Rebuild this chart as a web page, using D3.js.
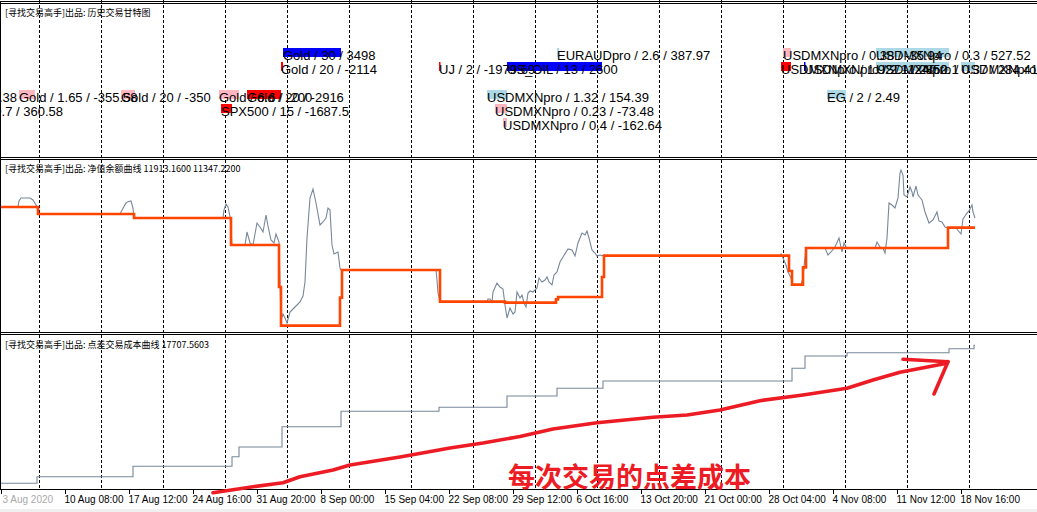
<!DOCTYPE html>
<html><head><meta charset="utf-8">
<script src="https://cdn.jsdelivr.net/npm/d3@7/dist/d3.min.js"></script>
<style>html,body{margin:0;padding:0;background:#fff;overflow:hidden}</style>
</head><body>
<svg id="c" width="1037" height="512"></svg>
<script>
// ---------------- DATA ----------------
// x axis: bar index (2 px per bar at this zoom)
const xTickBars = [0,32,64,96,128,160,192,224,256,288,320,352,384,416,448,480];
const xTickLabels = ["3 Aug 2020","10 Aug 08:00","17 Aug 12:00","24 Aug 16:00","31 Aug 20:00","8 Sep 00:00","15 Sep 04:00","22 Sep 08:00","29 Sep 12:00","6 Oct 16:00","13 Oct 20:00","21 Oct 00:00","28 Oct 04:00","4 Nov 08:00","11 Nov 12:00","18 Nov 16:00"];
const gridFirstBar = 19.15, gridStepBars = 31, gridCount = 16;

const panelTitles = ["[寻找交易高手]出品: 历史交易甘特图",
                     "[寻找交易高手]出品: 净值余额曲线 11913.1600 11347.2200",
                     "[寻找交易高手]出品: 点差交易成本曲线 17707.5603"];

// Gantt trades
const tradeLabels = ["Gold / 30 / 3498","Gold / 20 / -2114","UJ / 2 / -1979.69","US_OIL / 13 / 2600","EURAUDpro / 2.6 / 387.97",
  "USDMXNpro / 1.32 / 154.39","USDMXNpro / 0.23 / -73.48","USDMXNpro / 0.4 / -162.64","EG / 2 / 2.49",
  "USDMXNpro / 0.38 / -35.94","USDMXNpro / 0.3 / 527.52","USDMXNpro / 1.92 / -1240.2","USDMXNpro / 2.1 / 2850.1",
  "USDMXNpro / 0.37 / 284.41","USDMXNpro / 0.5 / 695.19","Gold / 1.65 / -355.58","Gold / 20 / -350","Gold / 6.6 / -200",
  "Gold / 20 / -2916","SPX500 / 15 / -1687.5","Gold / 10 / 1690.38","Gold / 0.7 / 360.58"];
const tradeOpen  = [141,140,219,253,278,243,247,251,413,391,437.5,390,401.5,437.5,480,9,60,109,123,110,-47.3,-22.5];
const tradeClose = [170,141,219.75,300.5,279,253,253,253,422.5,395,474,395,402,474,487,17,67,119,140,115.5,-40,-15];
const tradeRow   = [0,1,1,1,0,3,4,5,3,0,0,1,1,1,1,3,3,3,3,4,3,4];
const tradeKind  = ["bigWin","bigLoss","bigLoss","bigWin","win","win","loss","loss","win","loss","win","bigLoss","bigWin","win","win","loss","loss","loss","bigLoss","bigLoss","win","win"];

// Balance (step) and equity curves: [bar, money]
const balance = [[-0.5,12580],[18.5,12160],[66.5,11920],[115,10300],[139,7780],[140,5460],[169.5,7140],[170.5,8800],
  [219.5,6900],[252,6840],[277.5,7040],[278.5,7180],[300.5,8380],[301.5,9660],[394,8740],[395.5,7920],[401,8960],
  [402.5,10120],[473.5,11340],[487,11340]];
const equity = [[-0.5,12580],[8.5,12580],[9,12940],[10,13120],[14.5,13120],[16,13000],[18,12600],[18.5,12160],
  [59.5,12160],[60,12280],[62.5,12820],[63.5,12900],[65,12940],[66,12520],[66.5,11920],[111,11920],[111.5,12400],
  [112.5,12760],[113.5,12580],[114.5,12000],[115,11200],[115.5,10300],[122,10300],[123,11080],[124.5,10420],[126,10300],
  [128,11620],[129.5,11380],[131,11080],[132.5,12100],[133.5,11440],[135,10600],[136.5,10420],[137.5,10960],[139,10480],
  [140,5800],[141,6160],[142,5920],[143,5620],[144.5,6280],[146,6460],[148,6700],[149.5,6880],[151,7240],[152,8080],
  [153,10720],[154.5,13120],[156,13660],[157.5,12820],[159.5,11500],[161,11680],[162.5,11920],[163.5,12520],[164.5,12400],
  [165.5,10300],[166.5,9760],[167.5,9820],[168.5,9880],[169.5,8920],[170,8800],[217.5,8800],[218,8200],[218.5,7420],
  [219.5,6900],[243,6900],[243.5,7060],[244.5,7060],[245.5,6880],[246,7480],[248,8020],[249.5,7780],[251,7660],[252,6700],
  [253,5920],[254.5,6520],[256,6160],[257,6280],[258,7480],[259.5,7120],[260.5,7300],[261.5,6820],[262.5,6580],[263.5,7420],
  [264.5,7540],[266,7480],[268,7720],[269,8320],[270.5,8080],[272,8200],[273,8380],[274,8080],[275.5,7900],[276.5,8500],
  [278,8680],[279.5,9280],[281,9580],[283.5,10060],[285.5,10000],[287,9640],[288.5,10420],[290.5,11020],[292,10900],
  [293,11140],[294,10720],[295.5,10000],[297,9820],[298,9640],[299.5,9700],[300.5,9660],[389.5,9660],[390,9760],[391,9520],
  [392.5,9100],[393.5,8680],[395,8320],[395.5,7920],[400,7920],[401,8320],[401.5,8980],[402.5,10120],[412,10120],[413.5,9700],
  [415,9880],[417,10180],[419,10720],[420.5,9880],[421.5,10420],[422.5,10180],[423.5,10120],[437,10120],[438,10480],
  [439.5,10180],[441,10120],[442,9820],[443,10720],[444,12820],[445.5,12700],[447,12520],[448.5,13120],[449.5,14620],
  [450,14800],[451,14500],[451.5,13300],[453,13180],[454.5,13780],[455.5,13480],[456,13180],[457.5,13840],[458.5,13300],
  [460.5,13000],[462,12280],[464,11620],[466,11800],[468,12280],[469,11740],[470.5,11680],[472,11380],[473.5,11320],
  [477.5,11320],[480,10960],[481,11860],[483,12220],[484,12340],[485.5,12700],[486,12280],[487,11920]];

// cumulative spread cost (step)
const spreadCost = [[-0.5,462],[18,1288],[66,2588],[115.5,3788],[119,5000],[140.5,7538],[170,9463],[219,9963],
  [253,11375],[278,12338],[301,13250],[395.5,14838],[402,16375],[423,16788],[474,17288],[486.5,17713],[487,17713]];

// hand-drawn red annotation (same units as spread panel)
const annotCurve = [[106,-712],[126,38],[141,538],[149.5,1288],[166,2125],[174.5,2750],[199.5,3750],[224.5,4875],
  [241,5500],[259.5,6313],[276,7250],[298,8038],[326,8713],[343,9000],[359.5,9625],[379.5,10788],[401,11500],
  [423,12338],[436,13375],[449.5,14338],[473,15463]];
const annotArrowA = [[451,15963],[473.5,15663]];
const annotArrowB = [[473.5,15663],[466.5,11625]];
const annotText = "每次交易的点差成本";
const annotTextPos = [253.5, 0];

// ---------------- DRAW ----------------
const W = 1037, H = 512;
const svg = d3.select("#c");
const kindColor = {bigWin:"#0000FF", bigLoss:"#FF0000", win:"#ADD8E6", loss:"#FFB6C1"};

const x = d3.scaleLinear().domain([0,518]).range([1,1037]);
const yEq = d3.scaleLinear().domain([4960,15400]).range([334,160]);
const ySp = d3.scaleLinear().domain([-250,18750]).range([489,337]);
const rowY = d3.scaleLinear().domain([0,5]).range([48,118]);

svg.append("rect").attr("width",W).attr("height",H).attr("fill","#fff");
svg.append("rect").attr("x",0).attr("y",509).attr("width",W).attr("height",3).attr("fill","#F0F0F0");

// clip for panel 2
const defs = svg.append("defs");
defs.append("clipPath").attr("id","p2").append("rect").attr("x",1).attr("y",160).attr("width",W).attr("height",172);
defs.append("clipPath").attr("id","p1").append("rect").attr("x",1).attr("y",4).attr("width",W).attr("height",153);

// grid lines
const gridBars = d3.range(gridCount).map(i => gridFirstBar + i*gridStepBars);
svg.append("g").selectAll("line").data(gridBars).join("line")
  .attr("x1",d=>Math.round(x(d))+0.5).attr("x2",d=>Math.round(x(d))+0.5)
  .attr("y1",0).attr("y2",489)
  .attr("stroke","#000").attr("stroke-width",1).attr("stroke-dasharray","3,2")
  .attr("shape-rendering","crispEdges");

// Gantt
const trades = tradeLabels.map((t,i)=>({label:t,o:tradeOpen[i],c:tradeClose[i],row:tradeRow[i],kind:tradeKind[i]}));
const g1 = svg.append("g").attr("clip-path","url(#p1)");
g1.selectAll("rect.bar").data(trades).join("rect").attr("class","bar")
  .attr("x",d=>x(d.o)).attr("y",d=>rowY(d.row))
  .attr("width",d=>Math.max(1.5,x(d.c)-x(d.o))).attr("height",9)
  .attr("fill",d=>kindColor[d.kind]);
g1.selectAll("text.lbl").data(trades).join("text").attr("class","lbl")
  .attr("x",d=>x(d.o)).attr("y",d=>rowY(d.row)+12)
  .attr("font-family","'Liberation Sans', Arial, sans-serif").attr("font-size",13)
  .attr("fill","#000").text(d=>d.label);

// panel 2 curves
const g2 = svg.append("g").attr("clip-path","url(#p2)");
g2.append("path").datum(equity)
  .attr("d",d3.line().x(d=>x(d[0])).y(d=>yEq(d[1])))
  .attr("fill","none").attr("stroke","#778899").attr("stroke-width",1.1);
g2.append("path").datum(balance)
  .attr("d",d3.line().x(d=>x(d[0])).y(d=>yEq(d[1])).curve(d3.curveStepAfter))
  .attr("fill","none").attr("stroke","#FF4500").attr("stroke-width",2.6);

// panel 3 curve
svg.append("path").datum(spreadCost)
  .attr("d",d3.line().x(d=>x(d[0])).y(d=>ySp(d[1])).curve(d3.curveStepAfter))
  .attr("fill","none").attr("stroke","#778899").attr("stroke-width",1.1);

// borders
const hl = [1.5,3.5,157.5,159.5,332.5,334.5,489.5];
svg.append("g").selectAll("line").data(hl).join("line")
  .attr("x1",0).attr("x2",W).attr("y1",d=>d).attr("y2",d=>d)
  .attr("stroke","#000").attr("stroke-width",1).attr("shape-rendering","crispEdges");
svg.append("line").attr("x1",0.5).attr("x2",0.5).attr("y1",1.5).attr("y2",489.5)
  .attr("stroke","#000").attr("shape-rendering","crispEdges");

// panel titles
const titleY = [16, 172, 348];
svg.append("g").selectAll("text").data(panelTitles).join("text")
  .attr("x",5).attr("y",(d,i)=>titleY[i])
  .attr("font-family","'Noto Sans CJK SC', sans-serif").attr("font-size",9)
  .attr("fill","#000").text(d=>d);

// x axis
const axis = d3.axisBottom(x).tickValues(xTickBars).tickFormat((d,i)=>xTickLabels[i]).tickSize(4).tickPadding(2);
const ga = svg.append("g").attr("transform","translate(0,489.5)").call(axis);
ga.select(".domain").remove();
ga.selectAll(".tick line").attr("stroke","#000").attr("shape-rendering","crispEdges");
ga.selectAll(".tick text").attr("text-anchor","start").attr("dx",-1)
  .attr("font-family","'Liberation Sans', Arial, sans-serif").attr("font-size",10).attr("fill","#000");
ga.selectAll(".tick text").filter((d,i)=>i===0).attr("fill","#aaa").attr("dx",1);

// annotation
const red = "#ED1C24";
const la = d3.line().x(d=>x(d[0])).y(d=>ySp(d[1])).curve(d3.curveLinear);
[annotCurve, annotArrowA, annotArrowB].forEach(p=>{
  svg.append("path").datum(p).attr("d",la).attr("fill","none").attr("stroke",red)
    .attr("stroke-width",3.6).attr("stroke-linecap","round").attr("stroke-linejoin","round");
});
svg.append("text").attr("x",x(annotTextPos[0])).attr("y",ySp(annotTextPos[1]))
  .attr("font-family","'Noto Sans CJK SC', sans-serif").attr("font-weight","bold").attr("font-size",27)
  .attr("fill",red).text(annotText);
</script>
</body></html>
